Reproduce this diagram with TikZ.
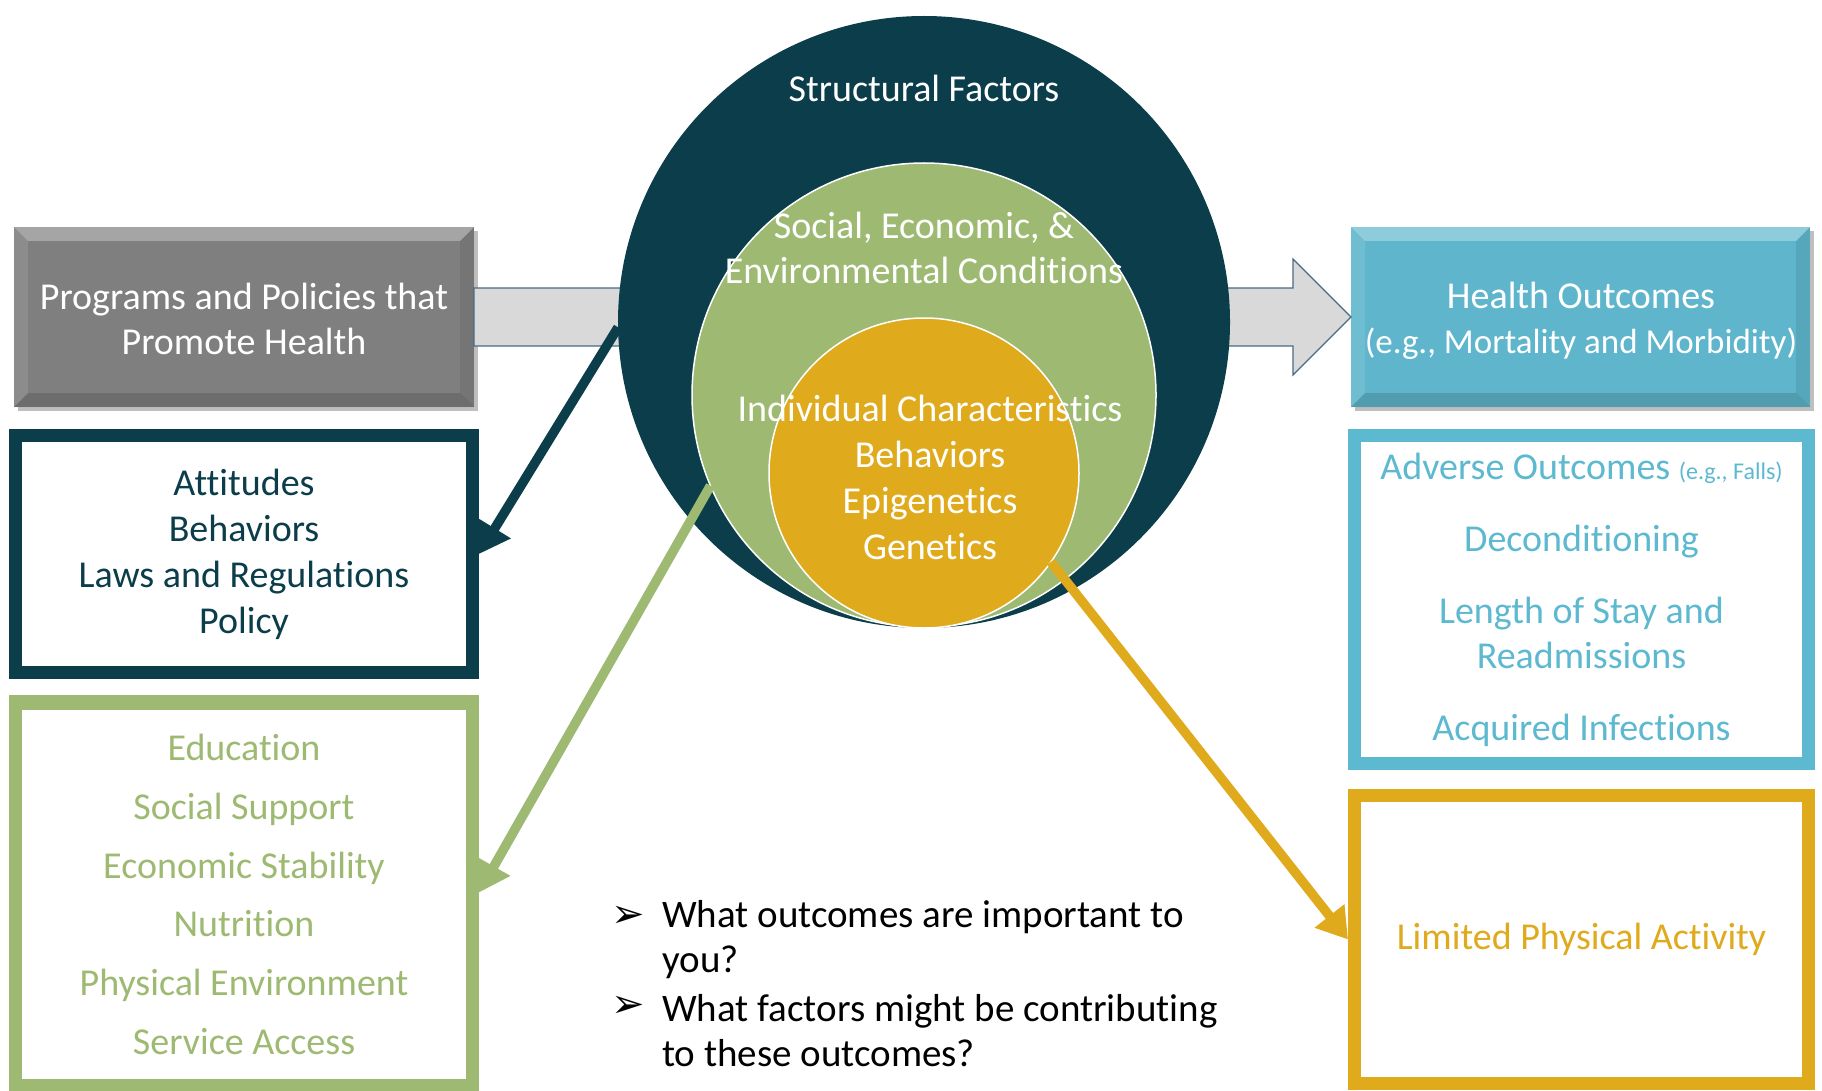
\documentclass[tikz,border=0pt]{standalone}
\usepackage{fontspec}
\setmainfont{Carlito}[RawFeature={-liga;-clig;-calt;-dlig}]
\newfontfamily\symfont{DejaVu Sans}
\usetikzlibrary{arrows.meta,calc}
\definecolor{dteal}{HTML}{0B3D4A}
\definecolor{lgreen}{HTML}{9EBA72}
\definecolor{gold}{HTML}{E0AA1D}
\definecolor{lblue}{HTML}{5DB9D0}
\definecolor{hblue}{HTML}{5FB6CC}
\definecolor{boxgray}{HTML}{7F7F7F}
\definecolor{arrgray}{HTML}{D9D9D9}
\definecolor{arredge}{HTML}{4A6A84}
\newcommand\bevelit[2]{%
  \fill[white,opacity=0.30] (#1.north west) -- (#1.north east) -- ($(#1.north east)+(-#2,#2)$) -- ($(#1.north west)+(#2,#2)$) -- cycle;
  \fill[white,opacity=0.10] (#1.north west) -- ($(#1.north west)+(#2,#2)$) -- ($(#1.south west)+(#2,-#2)$) -- (#1.south west) -- cycle;
  \fill[black,opacity=0.08] (#1.north east) -- ($(#1.north east)+(-#2,#2)$) -- ($(#1.south east)+(-#2,-#2)$) -- (#1.south east) -- cycle;
  \fill[black,opacity=0.14] (#1.south west) -- ($(#1.south west)+(#2,-#2)$) -- ($(#1.south east)+(-#2,-#2)$) -- (#1.south east) -- cycle;
}
\begin{document}
\begin{tikzpicture}[x=1pt,y=-1pt,
  txt/.style={font=\fontsize{38}{45}\selectfont, align=center, inner sep=0pt},
  gradbox/.style={rectangle, inner sep=0pt, outer sep=0pt, minimum width=460pt, minimum height=180pt, text=white, font=\fontsize{38}{45}\selectfont, align=center},
  framebox/.style={rectangle, draw, line width=13pt, fill=white, inner sep=0pt, font=\fontsize{38}{45}\selectfont, align=center},
  ring/.style={circle, inner sep=0pt, outer sep=0pt},
  conn/.style={line width=9.5pt, -{Triangle[length=30pt,width=36pt]}},
]
\useasboundingbox (0,0) rectangle (1822,1091);
\fill[white] (0,0) rectangle (1822,1091);

% side boxes with bevel
\fill[black,opacity=0.25] (18,231) rectangle (478,411);
\node[gradbox, fill=boxgray] (pp) at (244,317) {};
\bevelit{pp}{14}
\node[txt, text=white] (ppt) at (244,319) {Programs and Policies that\\Promote Health};

\fill[black,opacity=0.25] (1355,231) rectangle (1814,411);
\node[gradbox, fill=hblue, minimum width=459pt] (ho) at (1580.5,317) {};
\bevelit{ho}{14}
\node[txt, text=white] (hot) at (1581,321) {Health Outcomes\\\fontsize{35}{40}\selectfont(e.g., Mortality and Morbidity)};

% big gray arrow from program box to outcome box
\draw[fill=arrgray, draw=arredge, line width=1.2pt]
  ($(pp.east)+(0,-29)$) -- ($(ho.west)+(-58,-29)$) -- ($(ho.west)+(-58,-58)$) -- (ho.west)
  -- ($(ho.west)+(-58,58)$) -- ($(ho.west)+(-58,29)$) -- ($(pp.east)+(0,29)$) -- cycle;

% nested circles
\node[ring, fill=dteal, minimum size=612pt] (sf) at (924,322) {};
\node[ring, fill=lgreen, draw=white, line width=1.5pt, minimum size=464pt] (sec) at (924,395) {};
\node[ring, fill=gold, draw=white, line width=1.5pt, minimum size=310pt] (ind) at (924,473) {};

\node[txt, text=white] (sft) at (924,88) {Structural Factors};
\node[txt, text=white] (sect) at (924,248) {Social, Economic, \&\\Environmental Conditions};
\node[txt, text=white, font=\fontsize{38}{46}\selectfont] (indt) at (930,477) {Individual Characteristics\\Behaviors\\Epigenetics\\Genetics};

% framed boxes
\node[framebox, draw=dteal, minimum width=457pt, minimum height=237pt] (db) at (244,554) {};
\node[framebox, draw=lgreen, minimum width=457pt, minimum height=382pt] (gb) at (244,892.5) {};
\node[framebox, draw=lblue, minimum width=454pt, minimum height=328pt] (bb) at (1581.5,599.5) {};
\node[framebox, draw=gold, minimum width=454pt, minimum height=288pt] (yb) at (1581.5,939.5) {};

% connectors
\draw[conn, dteal] (sf.181) -- (db.east);
\draw[conn, lgreen] (sec.203) -- (gb.east);
\draw[conn, gold] (ind.-35) -- (yb.west);

% frames on top of arrow tips, with their texts
\node[framebox, draw=dteal, text=dteal, minimum width=457pt, minimum height=237pt, font=\fontsize{38}{46}\selectfont] (dbt) at (db) {Attitudes\\Behaviors\\Laws and Regulations\\Policy};
\node[framebox, draw=lgreen, text=lgreen, minimum width=457pt, minimum height=382pt, font=\fontsize{38}{58.7}\selectfont] (gbt) at ($(gb)+(0,2)$) {Education\\Social Support\\Economic Stability\\Nutrition\\Physical Environment\\Service Access};
\node[framebox, draw=lblue, text=lblue, minimum width=454pt, minimum height=328pt] (bbt) at (bb) {Adverse Outcomes {\fontsize{24}{28}\selectfont(e.g., Falls)}\\[27pt]Deconditioning\\[27pt]Length of Stay and\\Readmissions\\[27pt]Acquired Infections};
\node[framebox, draw=gold, text=gold, minimum width=454pt, minimum height=288pt] (ybt) at (yb) {Limited Physical Activity};

% questions
\node[inner sep=0pt, font=\symfont\fontsize{40}{44}\selectfont] (b1) at (628,917) {➢};
\node[inner sep=0pt, font=\symfont\fontsize{40}{44}\selectfont] (b2) at (628,1007) {➢};
\node[txt, anchor=west, align=left, font=\fontsize{39}{45}\selectfont] (q1) at (662,939.5) {What outcomes are important to\\you?};
\node[txt, anchor=west, align=left, font=\fontsize{39}{45}\selectfont] (q2) at (662,1031) {What factors might be contributing\\to these outcomes?};
\end{tikzpicture}
\end{document}
